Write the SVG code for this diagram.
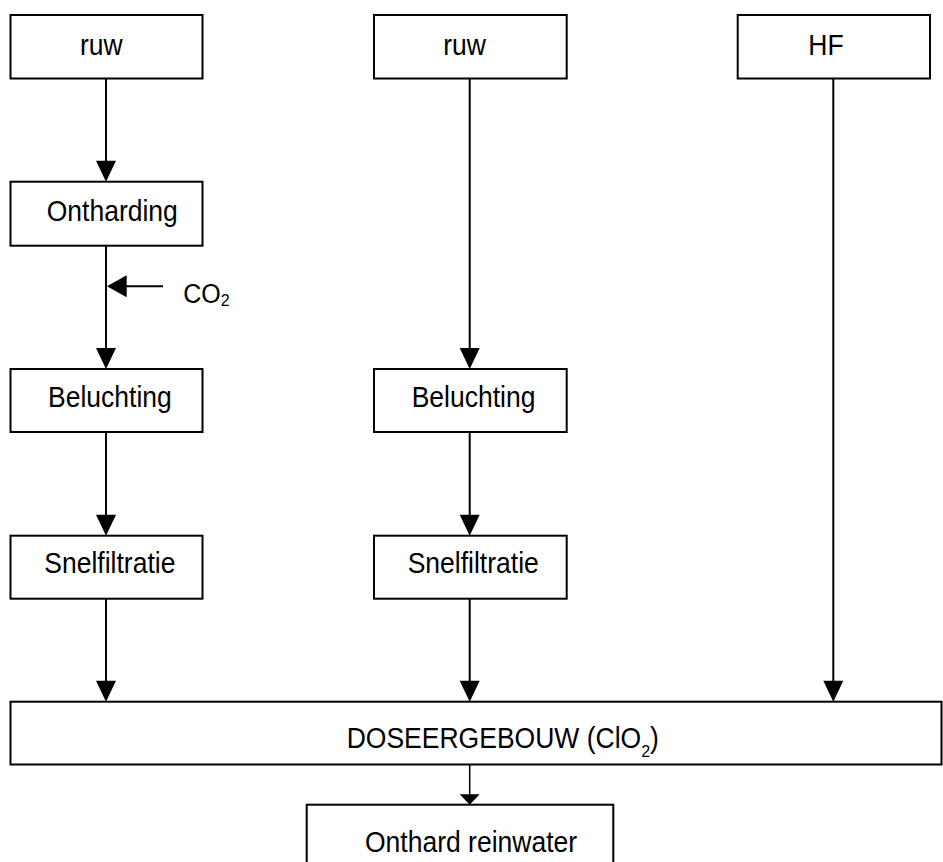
<svg xmlns="http://www.w3.org/2000/svg" width="943" height="862" viewBox="0 0 943 862">
  <style>
    .box { fill: #ffffff; stroke: #000000; stroke-width: 2; }
    .lbl { font-family: "Liberation Sans", Arial, sans-serif; font-size: 26.5px; fill: #000000; }
    .sub { font-family: "Liberation Sans", Arial, sans-serif; font-size: 16px; fill: #000000; }
    .line { stroke: #000000; stroke-width: 2; fill: none; }
    .thin { stroke: #000000; stroke-width: 1.5; fill: none; }
    .head { fill: #000000; stroke: none; }
  </style>
  <defs>
    <!-- filled downward arrowhead, tip at the origin -->
    <path id="down" class="head" d="M0,0 L-10,-21 L10,-21 Z"/>
    <path id="downSmall" class="head" d="M0,0 L-10,-10.5 L10,-10.5 Z"/>
  </defs>

  <!-- column 1 -->
  <g id="ruw1">
    <rect class="box" x="10.5" y="15" width="192" height="63.5"/>
    <text class="lbl" transform="translate(80 55) scale(1 1.08)">ruw</text>
  </g>
  <g id="ontharding">
    <rect class="box" x="10.5" y="181.7" width="192" height="64"/>
    <text class="lbl" transform="translate(46.7 221) scale(1 1.08)">Ontharding</text>
  </g>
  <g id="beluchting1">
    <rect class="box" x="10.5" y="369" width="192" height="63"/>
    <text class="lbl" transform="translate(48 406.7) scale(1 1.08)">Beluchting</text>
  </g>
  <g id="snelfiltratie1">
    <rect class="box" x="10.5" y="535.7" width="192" height="63"/>
    <text class="lbl" transform="translate(44.3 573.3) scale(1 1.08)">Snelfiltratie</text>
  </g>

  <!-- column 2 -->
  <g id="ruw2">
    <rect class="box" x="374" y="15" width="192.7" height="63.5"/>
    <text class="lbl" transform="translate(443.3 55) scale(1 1.08)">ruw</text>
  </g>
  <g id="beluchting2">
    <rect class="box" x="374" y="369" width="192.7" height="63"/>
    <text class="lbl" transform="translate(411.7 406.7) scale(1 1.08)">Beluchting</text>
  </g>
  <g id="snelfiltratie2">
    <rect class="box" x="374" y="535.7" width="192.7" height="63"/>
    <text class="lbl" transform="translate(407.7 573.3) scale(1 1.08)">Snelfiltratie</text>
  </g>

  <!-- column 3 -->
  <g id="hf">
    <rect class="box" x="737.7" y="15" width="192.3" height="63.5"/>
    <text class="lbl" transform="translate(808.3 55) scale(1 1.08)">HF</text>
  </g>

  <!-- dosing building and output -->
  <g id="doseergebouw">
    <rect class="box" x="10.5" y="701.7" width="931" height="62.8"/>
    <text class="lbl" transform="translate(346.7 748.3) scale(1 1.08)">DOSEERGEBOUW (ClO<tspan class="sub" dy="8">2</tspan><tspan dy="-8">)</tspan></text>
  </g>
  <g id="reinwater">
    <rect class="box" x="306.7" y="804.7" width="306.6" height="70"/>
    <text class="lbl" transform="translate(365 851.7) scale(1 1.08)">Onthard reinwater</text>
  </g>

  <!-- dosing label -->
  <g id="co2">
    <text class="lbl" style="font-size:25px" transform="translate(183.3 303) scale(1 1.08)">CO<tspan class="sub" dy="3">2</tspan></text>
  </g>

  <g id="connectors">
    <!-- column 1 -->
    <line class="line" x1="106" y1="78.5" x2="106" y2="165"/>
    <use href="#down" x="106" y="181.7"/>
    <line class="line" x1="106" y1="245.7" x2="106" y2="353"/>
    <use href="#down" x="106" y="369"/>
    <line class="line" x1="106" y1="432" x2="106" y2="520"/>
    <use href="#down" x="106" y="535.7"/>
    <line class="line" x1="106" y1="598.7" x2="106" y2="686"/>
    <use href="#down" x="106" y="701.7"/>
    <!-- CO2 feed -->
    <line class="line" x1="122" y1="286.3" x2="163" y2="286.3"/>
    <path class="head" d="M107,286.3 L126.7,275.3 L126.7,297.3 Z"/>

    <!-- column 2 -->
    <line class="line" x1="469.7" y1="78.5" x2="469.7" y2="353"/>
    <use href="#down" x="469.7" y="369"/>
    <line class="line" x1="469.7" y1="432" x2="469.7" y2="520"/>
    <use href="#down" x="469.7" y="535.7"/>
    <line class="line" x1="469.7" y1="598.7" x2="469.7" y2="686"/>
    <use href="#down" x="469.7" y="701.7"/>

    <!-- column 3 -->
    <line class="line" x1="833.3" y1="78.5" x2="833.3" y2="686"/>
    <use href="#down" x="833.3" y="701.7"/>

    <!-- to output -->
    <line class="thin" x1="469.7" y1="764.5" x2="469.7" y2="796"/>
    <use href="#downSmall" x="469.7" y="804.7"/>
  </g>
</svg>
